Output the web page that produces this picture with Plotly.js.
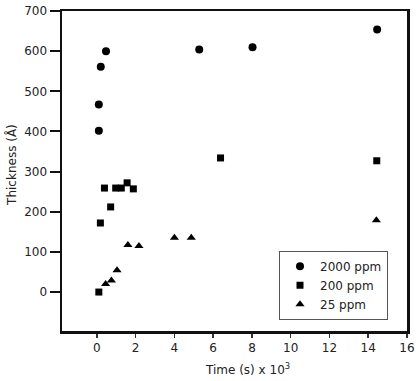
<!DOCTYPE html>
<html>
<head>
<meta charset="utf-8">
<script src="https://cdn.plot.ly/plotly-3.0.1.min.js"></script>
<style>html,body{margin:0;padding:0;background:#fff;}#chart{width:416px;height:381px;}</style>
</head>
<body>
<div id="chart"></div>
<script>
// 2000 ppm
const t2000 = [0.10, 0.10, 0.20, 0.47, 5.28, 8.03, 14.46];
const h2000 = [402, 467, 561, 600, 604, 610, 654];
// 200 ppm
const t200 = [0.10, 0.18, 0.39, 0.71, 0.97, 1.26, 1.56, 1.88, 6.38, 14.44];
const h200 = [0, 172, 259, 212, 259, 259, 272, 257, 334, 327];
// 25 ppm
const t25 = [0.45, 0.75, 1.04, 1.60, 2.17, 4.00, 4.87, 14.42];
const h25 = [20, 29, 54, 117, 115, 135, 135, 179];
const xTicks = [0, 2, 4, 6, 8, 10, 12, 14, 16];
const yTicks = [0, 100, 200, 300, 400, 500, 600, 700];

const fam = '"DejaVu Sans", sans-serif';
const font = {family: fam, size: 12, color: '#222'};
const traces = [
  {x: t2000, y: h2000, name: '2000 ppm', mode: 'markers', type: 'scatter',
   marker: {symbol: 'circle', size: 8, color: '#000'}},
  {x: t200, y: h200, name: '200 ppm', mode: 'markers', type: 'scatter',
   marker: {symbol: 'square', size: 7, color: '#000'}},
  {x: t25, y: h25, name: '25 ppm', mode: 'markers', type: 'scatter',
   marker: {symbol: 'triangle-up', size: 8, color: '#000'}}
];
const layout = {
  width: 416, height: 381,
  margin: {l: 62, r: 9, t: 11, b: 50},
  paper_bgcolor: '#fff', plot_bgcolor: '#fff',
  font: font,
  showlegend: true,
  legend: {x: 0.629, y: 0.251, xanchor: 'left', yanchor: 'top',
           bordercolor: '#555', borderwidth: 1, bgcolor: '#fff',
           font: {family: fam, size: 12, color: '#222'},
           tracegroupgap: 0},
  xaxis: {range: [-1.8, 16], tickvals: xTicks, ticktext: xTicks.map(String),
          showgrid: false, zeroline: false, showline: true, mirror: true,
          linecolor: '#111', linewidth: 2.5, ticks: 'outside', ticklen: 4,
          tickwidth: 1.5, tickcolor: '#333', tickfont: font},
  yaxis: {range: [-97, 700], tickvals: yTicks, ticktext: yTicks.map(String),
          showgrid: false, zeroline: false, showline: true, mirror: true,
          linecolor: '#111', linewidth: 2.5, ticks: 'outside', ticklen: 10,
          tickwidth: 2, tickcolor: '#111', tickfont: font},
  annotations: [
    {text: 'Time (s) x 10<sup>3</sup>', xref: 'paper', yref: 'paper',
     x: 0.538, y: -0.12, xanchor: 'center', yanchor: 'middle', showarrow: false,
     font: {family: fam, size: 12, color: '#222'}},
    {text: 'Thickness (Å)', xref: 'paper', yref: 'paper', textangle: -90,
     x: -0.145, y: 0.519, xanchor: 'center', yanchor: 'middle', showarrow: false,
     font: {family: fam, size: 12, color: '#222'}}
  ]
};
Plotly.newPlot('chart', traces, layout, {staticPlot: true, displayModeBar: false});
</script>
</body>
</html>
